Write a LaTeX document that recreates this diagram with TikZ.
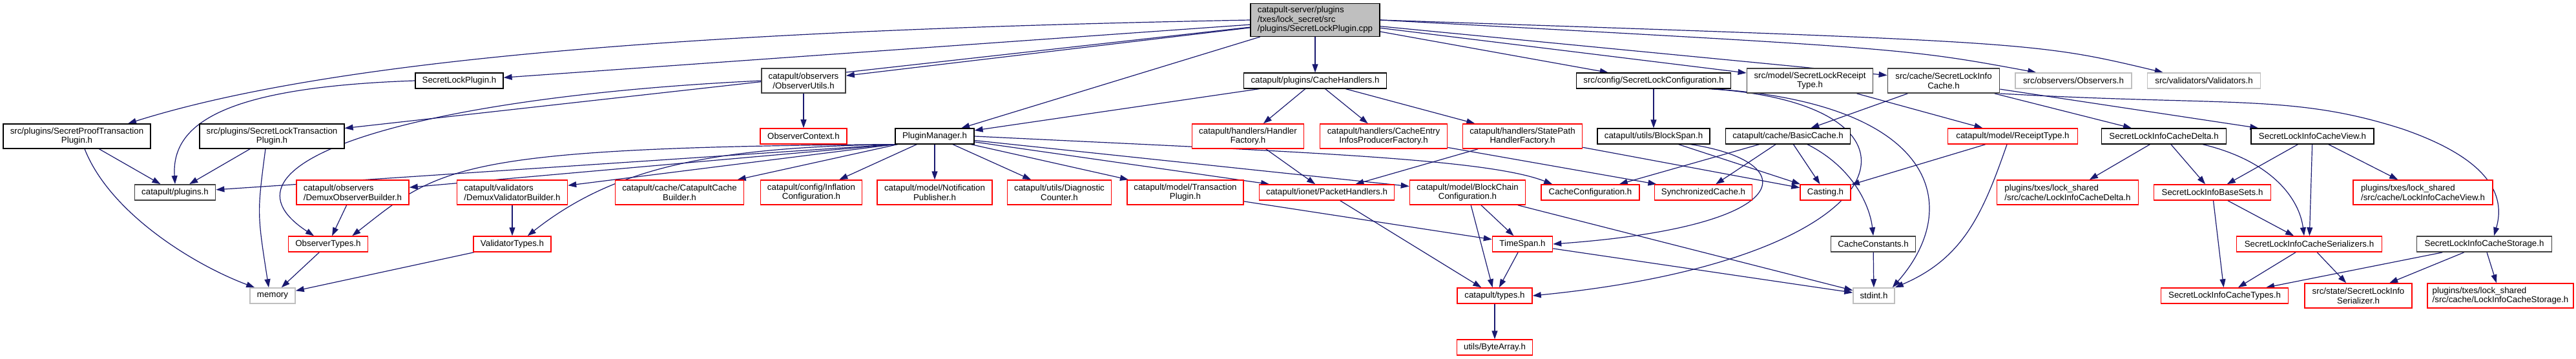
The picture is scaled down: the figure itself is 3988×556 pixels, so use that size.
\documentclass[tikz,border=0pt]{standalone}
\usepackage{fontspec}
\setmainfont{Liberation Sans}
\usetikzlibrary{arrows.meta}

\definecolor{edgeblue}{HTML}{191970}
\definecolor{boxgrey}{HTML}{BFBFBF}
\definecolor{darkgrey}{HTML}{404040}
\newcommand{\doxfont}{\fontsize{13.3}{14.5}\selectfont}
\pgfdeclarelayer{edges}
\pgfsetlayers{edges,main}

\begin{document}
\begin{tikzpicture}[x=1pt, y=-1pt, >={Triangle[length=13pt,width=9pt]},
        file/.style={draw=black, fill=white, line width=1.2pt, inner sep=3pt, minimum height=24pt, font=\doxfont},
        twoline/.style={minimum height=38pt},
        redfile/.style={file, draw=red, line width=1.5pt},
        darkfile/.style={file, draw=darkgrey, line width=1.8pt},
        extfile/.style={file, draw=boxgrey, line width=1.5pt},
        dep/.style={->, draw=edgeblue, line width=1.2pt}]

        \useasboundingbox (0,0) rectangle (3988,556);

        % ==========================================
        % 0. the source file itself
        % ==========================================
        \node[file, fill=boxgrey, align=left, minimum width=200pt, minimum height=51pt] (main) at (2036,31)
            {catapult-server/plugins\\/txes/lock\_secret/src\\/plugins/SecretLockPlugin.cpp};

        % ==========================================
        % 1. direct includes
        % ==========================================
        \node[file, minimum width=136pt] (slp) at (711,125) {SecretLockPlugin.h};
        \node[darkfile, twoline, align=center, minimum width=130pt] (ou) at (1244,125) {catapult/observers\\/ObserverUtils.h};
        \node[file, minimum width=221pt] (ch) at (2036,125) {catapult/plugins/CacheHandlers.h};
        \node[file, minimum width=239pt] (slc) at (2560,125) {src/config/SecretLockConfiguration.h};
        \node[darkfile, twoline, align=center, minimum width=195pt] (slrt) at (2802,125) {src/model/SecretLockReceipt\\Type.h};
        \node[darkfile, twoline, align=center, minimum width=173pt] (slic) at (3009,125) {src/cache/SecretLockInfo\\Cache.h};
        \node[extfile, minimum width=180pt] (obs) at (3210,125) {src/observers/Observers.h};
        \node[extfile, minimum width=175pt] (val) at (3412,125) {src/validators/Validators.h};

        % ==========================================
        % 2. second level
        % ==========================================
        \node[file, twoline, align=center, minimum width=228pt] (sptp) at (119,211) {src/plugins/SecretProofTransaction\\Plugin.h};
        \node[file, twoline, align=center, minimum width=224pt] (sltp) at (421,211) {src/plugins/SecretLockTransaction\\Plugin.h};
        \node[redfile, minimum width=134pt] (octx) at (1244,211) {ObserverContext.h};
        \node[file, minimum width=122pt] (pm) at (1447,211) {PluginManager.h};
        \node[redfile, twoline, align=center, minimum width=173pt] (hf) at (1932,211) {catapult/handlers/Handler\\Factory.h};
        \node[redfile, twoline, align=center, minimum width=197pt] (ceipf) at (2142,211) {catapult/handlers/CacheEntry\\InfosProducerFactory.h};
        \node[redfile, twoline, align=center, minimum width=185pt] (sphf) at (2357,211) {catapult/handlers/StatePath\\HandlerFactory.h};
        \node[file, minimum width=174pt] (bs) at (2560,211) {catapult/utils/BlockSpan.h};
        \node[file, minimum width=193pt] (bc) at (2768,211) {catapult/cache/BasicCache.h};
        \node[redfile, minimum width=201pt] (rt) at (3116,211) {catapult/model/ReceiptType.h};
        \node[file, minimum width=193pt] (delta) at (3350,211) {SecretLockInfoCacheDelta.h};
        \node[file, minimum width=190pt] (view) at (3580,211) {SecretLockInfoCacheView.h};

        % ==========================================
        % 3. third level
        % ==========================================
        \node[darkfile, minimum width=125pt] (plug) at (271,298) {catapult/plugins.h};
        \node[redfile, twoline, align=left, minimum width=174pt] (dob) at (546,298) {catapult/observers\\/DemuxObserverBuilder.h};
        \node[redfile, twoline, align=left, minimum width=171pt] (dvb) at (793,298) {catapult/validators\\/DemuxValidatorBuilder.h};
        \node[redfile, twoline, align=center, minimum width=199pt] (ccb) at (1052,298) {catapult/cache/CatapultCache\\Builder.h};
        \node[redfile, twoline, align=center, minimum width=157pt] (infl) at (1256,298) {catapult/config/Inflation\\Configuration.h};
        \node[redfile, twoline, align=center, minimum width=178pt] (np) at (1447,298) {catapult/model/Notification\\Publisher.h};
        \node[redfile, twoline, align=center, minimum width=161pt] (dc) at (1640,298) {catapult/utils/Diagnostic\\Counter.h};
        \node[redfile, twoline, align=center, minimum width=180pt] (tp) at (1835,298) {catapult/model/Transaction\\Plugin.h};
        \node[redfile, minimum width=209pt] (ph) at (2054,298) {catapult/ionet/PacketHandlers.h};
        \node[redfile, twoline, align=center, minimum width=179pt] (bcc) at (2272,298) {catapult/model/BlockChain\\Configuration.h};
        \node[redfile, minimum width=152pt] (ccfg) at (2462,298) {CacheConfiguration.h};
        \node[redfile, minimum width=151pt] (sc) at (2637,298) {SynchronizedCache.h};
        \node[redfile, minimum width=78pt] (cast) at (2826,298) {Casting.h};
        \node[redfile, twoline, align=left, minimum width=219pt] (lcd) at (3201,298) {plugins/txes/lock\_shared\\/src/cache/LockInfoCacheDelta.h};
        \node[redfile, minimum width=181pt] (bases) at (3425,298) {SecretLockInfoBaseSets.h};
        \node[redfile, twoline, align=left, minimum width=216pt] (lcv) at (3751,298) {plugins/txes/lock\_shared\\/src/cache/LockInfoCacheView.h};

        % ==========================================
        % 4. deeper levels
        % ==========================================
        \node[redfile, minimum width=123pt] (ot) at (508,378) {ObserverTypes.h};
        \node[redfile, minimum width=120pt] (vt) at (793,378) {ValidatorTypes.h};
        \node[redfile, minimum width=93pt] (ts) at (2357,378) {TimeSpan.h};
        \node[darkfile, minimum width=131pt] (cconst) at (2900,378) {CacheConstants.h};
        \node[redfile, minimum width=225pt] (ser) at (3575,378) {SecretLockInfoCacheSerializers.h};
        \node[darkfile, minimum width=209pt] (stor) at (3846,378) {SecretLockInfoCacheStorage.h};

        \node[extfile, minimum width=70pt] (mem) at (422,458) {memory};
        \node[redfile, minimum width=116pt] (types) at (2314,458) {catapult/types.h};
        \node[extfile, minimum width=64pt] (stdint) at (2901,458) {stdint.h};
        \node[redfile, minimum width=197pt] (ctypes) at (3444,458) {SecretLockInfoCacheTypes.h};
        \node[redfile, twoline, align=center, minimum width=166pt] (slis) at (3651,458) {src/state/SecretLockInfo\\Serializer.h};
        \node[redfile, twoline, align=left, minimum width=226pt] (lcs) at (3871,458) {plugins/txes/lock\_shared\\/src/cache/LockInfoCacheStorage.h};

        \node[redfile, minimum width=117pt] (ba) at (2314,538) {utils/ByteArray.h};

        % ==========================================
        % include edges (kept under the boxes)
        % ==========================================
        \begin{pgfonlayer}{edges}
        % from the source file
        \draw[dep] (main.west) .. controls (1200,45) and (550,80) .. ([xshift=79pt]sptp.north);
        \draw[dep] (main) -- (slp);
        \draw[dep] (main) -- (sltp);
        \draw[dep] (main) -- (ou);
        \draw[dep] (main) -- (pm);
        \draw[dep] (main) -- (ch);
        \draw[dep] (main) -- (slc);
        \draw[dep] (main) -- (slrt);
        \draw[dep] (main) -- (slic);
        \draw[dep] (main.east) .. controls (2950,75) .. ([xshift=33pt]obs.north west);
        \draw[dep] (main.east) .. controls (3150,65) .. ([xshift=25pt]val.north west);

        % left part
        \draw[dep] (slp.west) .. controls (350,135) and (265,190) .. (plug.north);
        \draw[dep] (sptp) -- (plug);
        \draw[dep] ([xshift=12pt]sptp.south) .. controls (170,330) and (300,410) .. ([xshift=8pt]mem.north west);
        \draw[dep] (sltp) -- (plug);
        \draw[dep] ([xshift=-10pt]sltp.south) .. controls (398,330) .. ([xshift=-6pt]mem.north);
        \draw[dep] (ou) -- (octx);
        \draw[dep] (ou.west) .. controls (650,150) and (310,250) .. ([xshift=-22pt]ot.north);
        \draw[dep] (dob) -- (ot);
        \draw[dep] (dvb) -- (vt);
        \draw[dep] (ot) -- (mem);
        \draw[dep] (vt) -- (mem);

        % plugin manager
        \draw[dep] (pm.south west) -- (plug);
        \draw[dep] (pm.south west) -- (dob);
        \draw[dep] (pm.south west) -- (dvb);
        \draw[dep] (pm.south west) .. controls (700,228) and (680,260) .. ([xshift=-25pt]ot.north east);
        \draw[dep] (pm.south west) .. controls (1100,228) and (950,260) .. ([xshift=-37pt]vt.north east);
        \draw[dep] (pm) -- (ccb);
        \draw[dep] (pm) -- (infl);
        \draw[dep] (pm) -- (np);
        \draw[dep] (pm) -- (dc);
        \draw[dep] (pm) -- (tp);
        \draw[dep] (pm) -- (ph);
        \draw[dep] (pm) -- (bcc);
        \draw[dep] (pm.east) .. controls (2000,235) and (2300,245) .. ([xshift=18pt]ccfg.north west);

        % cache handlers
        \draw[dep] (ch) -- (pm);
        \draw[dep] (ch) -- (hf);
        \draw[dep] (ch) -- (ceipf);
        \draw[dep] (ch) -- (sphf);
        \draw[dep] (hf) -- (ph);
        \draw[dep] (ceipf) -- (sc);
        \draw[dep] (sphf) -- (ph);
        \draw[dep] (sphf) -- (cast);

        % middle part
        \draw[dep] (tp) -- (ts);
        \draw[dep] (ph) -- (types);
        \draw[dep] (bcc) -- (types);
        \draw[dep] (bcc) -- (ts);
        \draw[dep] (bcc) -- (stdint);
        \draw[dep] (ts) -- (types);
        \draw[dep] (ts) -- (stdint);
        \draw[dep] (types) -- (ba);

        % configuration and basic cache
        \draw[dep] (slc) -- (bs);
        \draw[dep] ([xshift=-35pt]slc.south east) .. controls (3020,160) and (2960,400) .. (types.east);
        \draw[dep] ([xshift=-30pt]slc.south east) .. controls (3000,160) and (3040,320) .. ([xshift=-4pt]stdint.north east);
        \draw[dep] (bs) -- (cast);
        \draw[dep] ([xshift=57pt]bs.south) .. controls (2790,250) and (2790,350) .. (ts.east);
        \draw[dep] (bc) -- (ccfg);
        \draw[dep] (bc) -- (sc);
        \draw[dep] (bc) -- (cast);
        \draw[dep] ([xshift=30pt]bc.south) .. controls (2870,260) and (2895,320) .. (cconst.north);
        \draw[dep] (cconst) -- (stdint);
        \draw[dep] (slrt) -- (rt);
        \draw[dep] (rt) -- (cast);
        \draw[dep] ([xshift=-9pt]rt.south) .. controls (3070,330) and (3040,400) .. (stdint.north east);

        % secret lock info cache
        \draw[dep] (slic) -- (bc);
        \draw[dep] (slic) -- (delta);
        \draw[dep] (slic) -- (view);
        \draw[dep] (slic.south east) .. controls (3450,165) and (3550,145) .. (3720,200)
            .. controls (3850,245) and (3880,300) .. ([xshift=15pt]stor.north);
        \draw[dep] (delta) -- (lcd);
        \draw[dep] (delta) -- (bases);
        \draw[dep] ([xshift=60pt]delta.south) .. controls (3520,250) and (3560,310) .. ([xshift=-8pt]ser.north);
        \draw[dep] (view) -- (bases);
        \draw[dep] (view) -- (ser);
        \draw[dep] (view) -- (lcv);
        \draw[dep] (bases) -- (ctypes);
        \draw[dep] (bases) -- (ser);
        \draw[dep] (ser) -- (ctypes);
        \draw[dep] (ser) -- (slis);
        \draw[dep] (stor) -- (ctypes);
        \draw[dep] (stor) -- (slis);
        \draw[dep] (stor) -- (lcs);
        \end{pgfonlayer}

    \end{tikzpicture}
\end{document}
